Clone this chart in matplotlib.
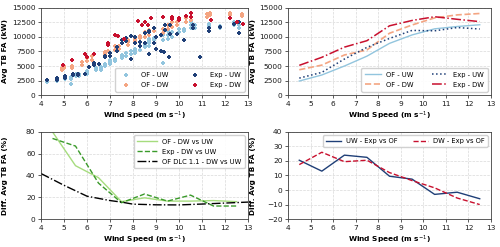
import matplotlib
matplotlib.use("Agg")
import matplotlib.pyplot as plt
import numpy as np

# ---------------- data ----------------
# Scatter (top-left): wind speed [m/s], average tower-base FA [kW]
of_uw_ws = [4.25, 4.25, 4.25, 4.7, 4.7, 5.05, 5.05, 5.05, 5.3, 5.3, 5.3, 5.5, 5.5, 5.5, 5.65, 5.65, 5.65,
            6.0, 6.0, 6.0, 6.4, 6.4, 6.6, 6.6, 6.6, 6.8, 6.8, 7.0, 7.0, 7.0, 7.2, 7.2, 7.5, 7.5, 7.5,
            7.7, 7.7, 7.9, 7.9, 8.1, 8.1, 8.1, 8.3, 8.3, 8.5, 8.5, 8.5, 8.7, 8.7, 8.7, 8.7, 8.9, 8.9, 8.9,
            9.3, 9.3, 9.3, 9.5, 9.5, 9.5, 9.7, 9.7, 10.0, 10.0, 10.2, 10.2, 10.5, 10.5, 10.5, 10.7, 10.7,
            11.3, 11.3, 11.3, 11.8, 11.8, 12.4, 12.4, 12.6, 12.6]
of_uw_ld = [2200, 2350, 2500, 2400, 2600, 2700, 2900, 3100, 1900, 2800, 3100, 3300, 3500, 3700, 3350, 3550, 3700,
            3700, 3950, 4200, 4300, 4600, 4400, 4650, 4900, 5000, 5400, 5400, 5700, 6000, 5800, 6200, 6300, 6600, 6900,
            6700, 7200, 7100, 7600, 7300, 7600, 7900, 7800, 8400, 8200, 8500, 8800, 8500, 8900, 9300, 9600, 9000, 9400, 9900,
            5600, 9400, 10400, 9700, 10300, 11000, 10000, 10900, 10800, 11400, 11000, 11300, 11500, 12000, 12500, 11500, 12100,
            11700, 12000, 12300, 11500, 11900, 12000, 12500, 11500, 12000]

of_dw_ws = [4.9, 4.9, 5.0, 5.0, 5.35, 5.35, 5.8, 5.8, 6.0, 6.0, 6.2, 6.2, 6.8, 6.8, 6.9, 7.2, 7.2, 7.4, 7.4,
            7.8, 7.8, 7.8, 8.1, 8.1, 8.3, 8.3, 8.5, 8.5, 8.7, 8.7, 8.7, 8.9, 8.9, 9.3, 9.3, 9.5, 9.5, 9.7, 9.7,
            9.9, 9.9, 10.3, 10.3, 10.5, 10.5, 11.2, 11.2, 11.35, 11.35, 12.2, 12.2, 12.75, 12.75]
of_dw_ld = [4400, 4700, 4600, 5000, 4700, 5000, 5200, 5700, 5800, 6300, 6000, 6700, 7000, 7400, 7500, 7800, 8500, 8000, 8400,
            8700, 9100, 9500, 9300, 9700, 9800, 10200, 10000, 10800, 7000, 10400, 11200, 11000, 11500, 10700, 11300, 11300, 12000, 11800, 12500,
            12000, 12600, 12500, 13300, 12900, 13500, 13500, 14000, 13800, 14200, 13800, 14200, 13600, 14000]

exp_uw_ws = [4.25, 4.7, 4.7, 5.05, 5.05, 5.4, 5.4, 5.6, 5.6, 5.9, 6.1, 6.3, 6.3, 6.5, 6.8, 6.8, 7.0, 7.0, 7.3, 7.3,
             7.5, 7.5, 7.7, 7.7, 7.9, 7.9, 8.1, 8.1, 8.3, 8.3, 8.5, 8.5, 8.7, 8.7, 8.7, 8.9, 8.9, 9.0, 9.0, 9.2, 9.2,
             9.35, 9.4, 9.4, 9.55, 9.6, 9.6, 9.9, 10.2, 10.6, 10.6, 10.9, 11.3, 11.3, 11.8, 12.4, 12.6, 12.6]
exp_uw_ld = [2600, 2600, 3000, 3000, 3200, 3500, 3700, 3400, 3600, 3700, 4800, 5200, 5600, 5400, 6500, 6800, 6800, 7300, 7500, 8300,
             9000, 9500, 9800, 9300, 6200, 10200, 10000, 9000, 9200, 8500, 9000, 10700, 10800, 7000, 11100, 11500, 9000, 8000, 10000, 7600, 10300,
             7400, 11200, 12000, 6600, 12000, 10500, 10500, 9400, 12000, 11600, 6600, 11000, 11600, 11800, 12200, 10600, 12500]

exp_dw_ws = [4.95, 4.95, 5.35, 5.9, 6.0, 6.3, 6.9, 6.9, 7.2, 7.35, 7.6, 8.2, 8.4, 8.5, 8.65, 8.8, 9.3,
             9.7, 9.7, 10.0, 10.0, 10.3, 10.5, 10.5, 11.4, 12.2, 12.5, 12.8]
exp_dw_ld = [5200, 5100, 6000, 7000, 6500, 7000, 8700, 8900, 10300, 10200, 9700, 12700, 12100, 12500, 12000, 13300, 13500,
             13500, 13100, 13000, 13300, 13600, 14200, 13400, 13000, 13300, 12500, 12200]

# Binned averages (top-right)
bins = [4.5, 5.5, 6.5, 7.5, 8.5, 9.5, 10.5, 11.5, 12.5]
avg_of_uw = [2420, 3460, 5000, 6700, 8900, 10350, 11400, 11800, 12100]
avg_of_dw = [4360, 5160, 6900, 7770, 10640, 12060, 13280, 13800, 14040]
avg_exp_uw = [2920, 3910, 6200, 8210, 9745, 11130, 11060, 11620, 11370]
avg_exp_dw = [5120, 6500, 8250, 9360, 11920, 12840, 13480, 13040, 12640]

# Differences DW vs UW (bottom-left), %
diff_of = [80, 49, 38, 16, 19.5, 16.5, 16.5, 17, 16]
diff_exp = [74, 67, 33, 15, 23, 16.5, 22, 12, 12]
dlc_ws = [4, 5, 6, 7, 7.5, 8, 9, 10, 11, 12, 13]
diff_dlc = [41.8, 31, 21, 17, 15.6, 13.7, 13.1, 13, 13.8, 14.7, 15.6]

# Differences Exp vs OF (bottom-right), %
diff_uw = [20.5, 13, 24, 22.5, 9.5, 7.5, -3, -1.5, -6]
diff_dw = [17.5, 26, 19.5, 20.5, 12, 6.5, 1.5, -5.5, -10]

# ---------------- style ----------------
c_lblue = '#92c5de'
c_lorange = '#f4a582'
c_navy = '#1f3f77'
c_red = '#c8102e'
c_lgreen = '#a6dc7e'
c_dgreen = '#3a9a2a'
FT = 5.3   # tick labels
FL = 5.3   # axis labels
FG = 4.9   # legend

plt.rcParams.update({
    'font.family': 'DejaVu Sans',
    'font.size': FT,
    'axes.edgecolor': '0.25',
    'axes.linewidth': 0.6,
    'xtick.major.width': 0.6,
    'ytick.major.width': 0.6,
    'xtick.major.size': 2.5,
    'ytick.major.size': 2.5,
    'xtick.major.pad': 1.5,
    'ytick.major.pad': 1.5,
    'xtick.labelsize': FT,
    'ytick.labelsize': FT,
    'xtick.color': '0.25',
    'ytick.color': '0.25',
    'xtick.labelcolor': '0.1',
    'ytick.labelcolor': '0.1',
})

fig = plt.figure(figsize=(5.0, 2.47), dpi=100)
L1, R1 = 0.082, 0.496
L2, R2 = 0.576, 0.982
B1, T1 = 0.615, 0.968
B2, T2 = 0.113, 0.466
ax1 = fig.add_axes([L1, B1, R1 - L1, T1 - B1])
ax2 = fig.add_axes([L2, B1, R2 - L2, T1 - B1])
ax3 = fig.add_axes([L1, B2, R1 - L1, T2 - B2])
ax4 = fig.add_axes([L2, B2, R2 - L2, T2 - B2])

xlab = r'Wind Speed (m s$^{-1}$)'


def style(ax):
    ax.grid(True, ls='--', lw=0.5, color='0.85')
    ax.set_axisbelow(True)
    ax.set_xlim(4, 13)
    ax.set_xticks(range(4, 14))
    ax.set_xlabel(xlab, fontweight='bold', fontsize=FL, labelpad=2.0)


leg_kw = dict(fontsize=FG, frameon=True, framealpha=0.9, edgecolor='0.8', fancybox=True)

# top-left scatter
ax1.scatter(of_uw_ws, of_uw_ld, marker='P', s=8, color=c_lblue, linewidths=0, label='OF - UW', zorder=2)
ax1.scatter(of_dw_ws, of_dw_ld, marker='P', s=8, color=c_lorange, linewidths=0, label='OF - DW', zorder=2)
ax1.scatter(exp_uw_ws, exp_uw_ld, marker='P', s=5, color=c_navy, linewidths=0, label='Exp - UW', zorder=3)
ax1.scatter(exp_dw_ws, exp_dw_ld, marker='P', s=5, color=c_red, linewidths=0, label='Exp - DW', zorder=3)
style(ax1)
ax1.set_ylim(0, 15000)
ax1.set_yticks(range(0, 15001, 2500))
ax1.set_ylabel('Avg TB FA (kW)', fontweight='bold', fontsize=FL)
ax1.legend(loc='lower right', ncol=2, handletextpad=1.2, columnspacing=2.8, markerscale=1.0,
           borderpad=0.6, labelspacing=0.55, **leg_kw)

# top-right binned lines
ax2.plot(bins, avg_of_uw, '-', color=c_lblue, lw=1.0, label='OF - UW')
ax2.plot(bins, avg_of_dw, '--', color=c_lorange, lw=1.2, label='OF - DW')
ax2.plot(bins, avg_exp_uw, ':', color=c_navy, lw=1.1, label='Exp - UW')
ax2.plot(bins, avg_exp_dw, '-.', color=c_red, lw=1.1, label='Exp - DW')
style(ax2)
ax2.set_ylim(0, 15000)
ax2.set_yticks(range(0, 15001, 2500))
ax2.set_ylabel('Avg TB FA (kW)', fontweight='bold', fontsize=FL)
ax2.legend(loc='lower right', ncol=2, handlelength=2.3, columnspacing=2.6,
           borderpad=0.6, labelspacing=0.55, **leg_kw)

# bottom-left
ax3.plot(bins, diff_of, '-', color=c_lgreen, lw=1.0, label='OF - DW vs UW')
ax3.plot(bins, diff_exp, '--', color=c_dgreen, lw=1.0, label='Exp - DW vs UW')
ax3.plot(dlc_ws, diff_dlc, '-.', color='black', lw=1.0, label='OF DLC 1.1 - DW vs UW')
style(ax3)
ax3.set_ylim(0, 80)
ax3.set_yticks(range(0, 81, 20))
ax3.set_ylabel('Diff. Avg TB FA (%)', fontweight='bold', fontsize=FL)
ax3.legend(loc='upper right', handlelength=2.8, borderpad=0.5, labelspacing=0.6, **leg_kw)

# bottom-right
ax4.plot(bins, diff_uw, '-', color=c_navy, lw=1.0, label='UW - Exp vs OF')
ax4.plot(bins, diff_dw, '--', color=c_red, lw=1.0, label='DW - Exp vs OF')
style(ax4)
ax4.set_ylim(-20, 40)
ax4.set_yticks(range(-20, 41, 10))
ax4.set_ylabel('Diff. Avg TB FA (%)', fontweight='bold', fontsize=FL)
ax4.legend(loc='upper right', ncol=2, handlelength=2.2, columnspacing=2.2,
           borderpad=0.4, **leg_kw)

for ax in (ax1, ax2, ax3, ax4):
    ax.yaxis.set_label_coords(-0.16, 0.5)

fig.savefig('out.png', dpi=100)
